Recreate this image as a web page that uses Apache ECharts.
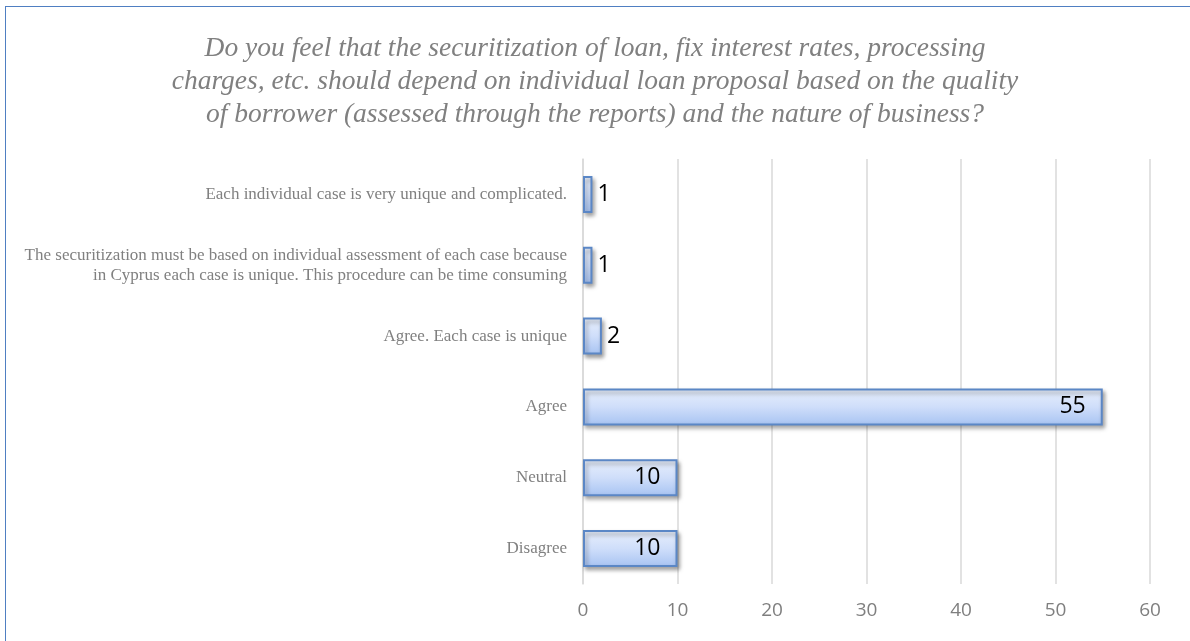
<!DOCTYPE html>
<html>
<head>
<meta charset="utf-8">
<style>
  html, body { margin: 0; padding: 0; background: #ffffff; }
  #frame { position: absolute; left: 5px; top: 6px; width: 1200px; height: 700px; border-left: 1.5px solid #4f7fc2; border-top: 1.5px solid #4f7fc2; box-sizing: border-box; }
  #chart { position: absolute; left: 0; top: 0; width: 1190px; height: 641px; }
</style>
<script src="https://cdn.jsdelivr.net/npm/echarts@6/dist/echarts.min.js"></script>
</head>
<body>
<div id="frame"></div>
<div id="chart"></div>
<script>
// Survey answers, bottom to top as drawn on the category axis
const categories = [
  'Disagree',
  'Neutral',
  'Agree',
  'Agree. Each case is unique',
  'The securitization must be based on individual assessment of each case because\nin Cyprus each case is unique. This procedure can be time consuming',
  'Each individual case is very unique and complicated.'
];
const responses = [10, 10, 55, 2, 1, 1];
const xTicks = [0, 10, 20, 30, 40, 50, 60];

const titleText = 'Do you feel that the securitization of loan, fix interest rates, processing\ncharges, etc. should depend on individual loan proposal based on the quality\nof borrower (assessed through the reports) and the nature of business?';

const chart = echarts.init(document.getElementById('chart'), null, { renderer: 'canvas' });

// Short bars carry their count outside, longer ones inside at the end
const barData = responses.map(v => ({
  value: v,
  label: { position: v < 5 ? 'right' : 'insideRight', distance: v < 5 ? 5 : 17 }
}));

chart.setOption({
  animation: false,
  title: {
    text: titleText,
    left: 'center',
    top: 27,
    textStyle: {
      fontFamily: 'Liberation Serif',
      fontStyle: 'italic',
      fontWeight: 'normal',
      fontSize: 27.5,
      lineHeight: 33,
      color: '#808080'
    }
  },
  grid: { left: 583, right: 40, top: 159, bottom: 57, containLabel: false },
  xAxis: {
    type: 'value',
    min: xTicks[0],
    max: xTicks[xTicks.length - 1],
    interval: 10,
    axisLine: { show: false },
    axisTick: { show: false },
    splitLine: { show: true, lineStyle: { color: '#d9d9d9', width: 1.5 } },
    axisLabel: {
      margin: 17,
      fontFamily: 'Open Sans',
      fontSize: 19,
      color: '#7f7f7f'
    }
  },
  yAxis: {
    type: 'category',
    data: categories,
    axisLine: { show: true, lineStyle: { color: '#d9d9d9', width: 1.5 } },
    axisTick: { show: false },
    axisLabel: {
      margin: 16,
      fontFamily: 'Liberation Serif',
      fontSize: 17,
      lineHeight: 20,
      color: '#808080',
      align: 'right'
    }
  },
  series: [{
    type: 'bar',
    data: barData,
    barWidth: 37,
    itemStyle: {
      color: new echarts.graphic.LinearGradient(0, 0, 0, 1, [
        { offset: 0, color: '#e8effc' },
        { offset: 0.5, color: '#cfdefa' },
        { offset: 1, color: '#a7c3f2' }
      ]),
      borderColor: '#5b87c6',
      borderWidth: 2,
      shadowColor: 'rgba(0,0,0,0.35)',
      shadowBlur: 4,
      shadowOffsetX: 2,
      shadowOffsetY: 3
    },
    label: {
      show: true,
      fontFamily: 'Open Sans',
      fontSize: 23,
      color: '#000000'
    }
  }]
});
</script>
</body>
</html>
